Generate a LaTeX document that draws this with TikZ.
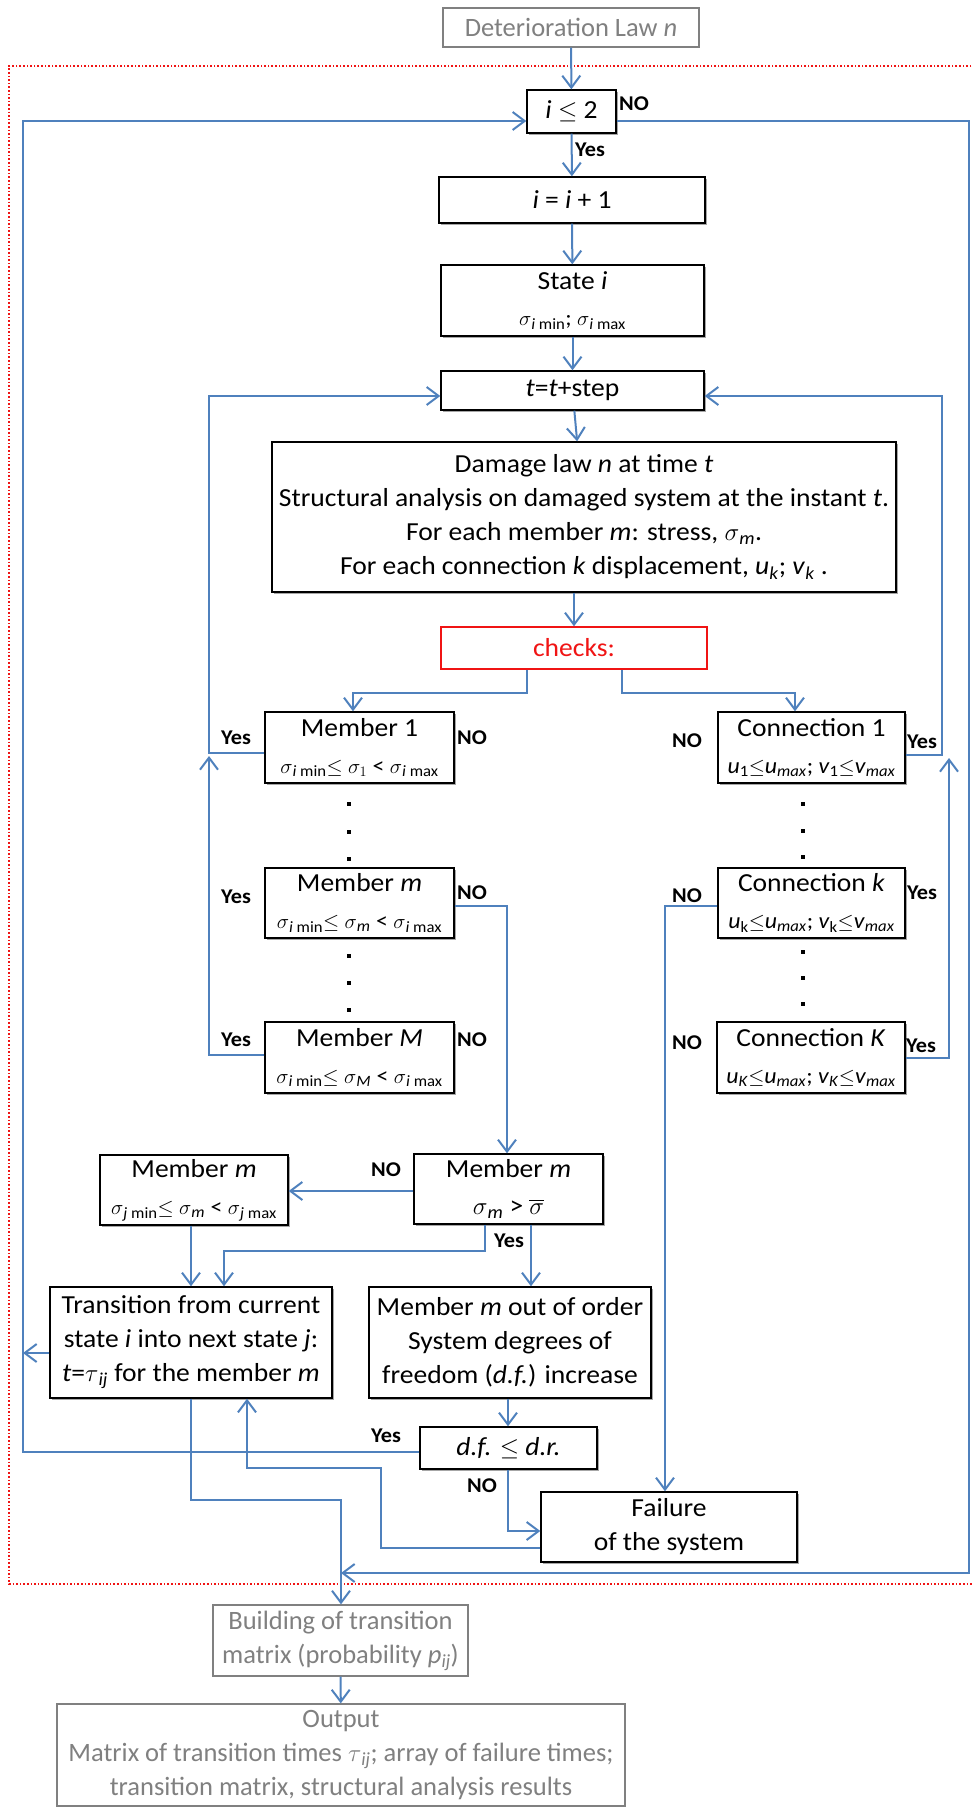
\documentclass[tikz,border=0pt]{standalone}
\usepackage{amsmath}
\usepackage{fontspec}
\setmainfont{Carlito}[FakeStretch=1.06]
\newfontfamily\plainfont{Carlito}
\usetikzlibrary{arrows.meta,shadows}
\definecolor{cblue}{RGB}{79,129,189}
\definecolor{cgray}{RGB}{128,128,128}
\definecolor{cred}{RGB}{240,20,20}
\newcommand\sub[1]{\textsubscript{#1}}
\newcommand\sg[1]{$\sigma$\sub{#1}}
\newcommand\sml{\fontsize{22.5}{34}\selectfont}
\begin{document}
\begin{tikzpicture}[x=1pt,y=-1pt,
  box/.style={draw=black,line width=1.4pt,inner sep=0pt,align=center,fill=white,
    font=\fontsize{26}{34}\selectfont,
    drop shadow={shadow xshift=1.6pt,shadow yshift=-1.6pt,fill=black!35,opacity=1}},
  gbox/.style={draw=cgray,line width=1.3pt,inner sep=0pt,align=center,text=cgray,fill=white,
    font=\plainfont\fontsize{26.5}{34}\selectfont},
  rbox/.style={draw=cred,line width=1.4pt,inner sep=0pt,align=center,text=cred,fill=white,
    font=\fontsize{26}{34}\selectfont},
  conn/.style={draw=cblue,line width=2pt,-{Straight Barb[length=12pt,width=18pt,line width=2pt]}},
  lbl/.style={font=\bfseries\fontsize{21}{21}\selectfont,inner sep=0pt},
  dotn/.style={rectangle,fill=black,inner sep=0pt,minimum size=4pt}]
\useasboundingbox (0,0) rectangle (972,1807);
% red dotted frame
\draw[cred,dotted,line width=1.6pt] (975,66) -- (9,66) -- (9,1584) -- (975,1584);
% nodes
\node[gbox,minimum width=256,minimum height=39] (det) at (571,27.5) {Deterioration Law \textit{n}};
\node[box,minimum width=89,minimum height=43] (ile) at (571.5,111.5) {\textit{i} $\leq$ 2};
\node[box,minimum width=266,minimum height=46] (inc) at (572,200) {\textit{i} = \textit{i} + 1};
\node[box,minimum width=263,minimum height=71] (state) at (572.5,300.5) {State \textit{i}\\[2pt] {\sml\sg{\textit{i} min}; \sg{\textit{i} max}}};
\node[box,minimum width=263,minimum height=39] (tstep) at (572.5,390.5) {\textit{t}=\textit{t}+step};
\node[box,minimum width=624,minimum height=150] (dmg) at (584,517) {Damage law \textit{n} at time \textit{t}\\
Structural analysis on damaged system at the instant \textit{t}.\\
For each member \textit{m}: stress, \sg{\textit{m}}.\\
For each connection \textit{k} displacement, \textit{u}\sub{\textit{k}}; \textit{v}\sub{\textit{k}} .};
\node[rbox,minimum width=266,minimum height=42] (checks) at (574,648) {checks:};
\node[box,minimum width=189,minimum height=71] (m1) at (359.5,747.5) {Member 1\\[3pt] {\sml\sg{\textit{i} min}$\leq$ $\sigma_1$ < \sg{\textit{i} max}}};
\node[box,minimum width=187,minimum height=71] (c1) at (811.5,747.5) {Connection 1\\[3pt] {\sml\textit{u}\sub{1}$\leq$\textit{u}\sub{\textit{max}}; \textit{v}\sub{1}$\leq$\textit{v}\sub{\textit{max}}}};
\node[box,minimum width=189,minimum height=70] (mm) at (359.5,903) {Member \textit{m}\\[3pt] {\sml\sg{\textit{i} min}$\leq$ \sg{\textit{m}} < \sg{\textit{i} max}}};
\node[box,minimum width=187,minimum height=70] (ck) at (811.5,903) {Connection \textit{k}\\[3pt] {\sml\textit{u}\sub{k}$\leq$\textit{u}\sub{\textit{max}}; \textit{v}\sub{k}$\leq$\textit{v}\sub{\textit{max}}}};
\node[box,minimum width=189,minimum height=71] (mM) at (359.5,1057.5) {Member \textit{M}\\[3pt] {\sml\sg{\textit{i} min}$\leq$ \sg{\textit{M}} < \sg{\textit{i} max}}};
\node[box,minimum width=188,minimum height=71] (cK) at (811,1057.5) {Connection \textit{K}\\[3pt] {\sml\textit{u}\sub{\textit{K}}$\leq$\textit{u}\sub{\textit{max}}; \textit{v}\sub{\textit{K}}$\leq$\textit{v}\sub{\textit{max}}}};
\node[box,minimum width=188,minimum height=70] (mj) at (194,1190) {Member \textit{m}\\[3pt] {\sml\sg{\textit{j} min}$\leq$ \sg{\textit{m}} < \sg{\textit{j} max}}};
\node[box,minimum width=189,minimum height=70] (mbar) at (508.5,1189) {Member \textit{m}\\[3pt] \sg{\textit{m}} > $\overline{\sigma}$};
\node[box,minimum width=282,minimum height=111] (trans) at (191,1342.5) {Transition from current\\ state \textit{i} into next state \textit{j}:\\ \textit{t}=$\tau$\sub{\textit{ij}} for the member \textit{m}};
\node[box,minimum width=282,minimum height=111] (ooo) at (510,1342.5) {Member \textit{m} out of order\\ System degrees of\\ freedom (\textit{d.f.}) increase};
\node[box,minimum width=177,minimum height=42] (df) at (508.5,1448) {\textit{d.f.} $\leq$ \textit{d.r.}};
\node[box,minimum width=256,minimum height=70] (fail) at (669,1527) {Failure\\ of the system};
\node[gbox,minimum width=255,minimum height=71] (build) at (340.5,1640.5) {Building of transition\\ matrix (probability \textit{p}\sub{\textit{ij}})};
\node[gbox,minimum width=568,minimum height=102] (out) at (341,1755) {Output\\ Matrix of transition times $\tau$\sub{\textit{ij}}; array of failure times;\\ transition matrix, structural analysis results};
% dots
\foreach \yy [count=\i] in {804,832,859,956,983,1010} {\node[dotn] (dm\i) at (349,\yy) {};}
\foreach \yy [count=\i] in {804,831,857,952,978,1004} {\node[dotn] (dc\i) at (803,\yy) {};}
% coordinates
\coordinate (leftj) at (23,1353);
\coordinate (botj) at (341,1573);
% connectors
\draw[conn] (det) -- (ile);
\draw[conn] (ile) -- (inc);
\draw[conn] (inc) -- (state);
\draw[conn] (state) -- (tstep);
\draw[conn] (tstep) -- (dmg);
\draw[conn] (574,0 |- dmg.south) -- (checks);
\draw[conn] (527,0 |- checks.south) |- (353,693) -- (353,0 |- m1.north);
\draw[conn] (622,0 |- checks.south) |- (795,693) -- (795,0 |- c1.north);
\draw[conn] (m1.west |- 0,753) -| (209,396) -- (tstep.west |- 0,396);
\draw[conn] (mM.west |- 0,1055) -| (209,756);
\draw[conn] (c1.east |- 0,755) -| (942,396) -- (tstep.east |- 0,396);
\draw[conn] (cK.east |- 0,1058) -| (949,758);
\draw[conn] (mm.east |- 0,906) -| (507,0 |- mbar.north);
\draw[conn] (ck.west |- 0,906) -| (665,0 |- fail.north);
\draw[conn] (mbar.west |- 0,1191) -- (mj.east |- 0,1191);
\draw[conn] (191,0 |- mj.south) -- (191,0 |- trans.north);
\draw[conn] (485,0 |- mbar.south) |- (224,1251) -- (224,0 |- trans.north);
\draw[conn] (531,0 |- mbar.south) -- (531,0 |- ooo.north);
\draw[conn] (trans.west |- leftj) -- (leftj);
\draw[conn] (508,0 |- ooo.south) -- (508,0 |- df.north);
\draw[conn] (df.west |- 0,1452) -| (23,121) -- (ile.west |- 0,121);
\draw[conn] (508,0 |- df.south) |- (fail.west |- 0,1531);
\draw[conn] (fail.west |- 0,1548) -| (381,1468) -| (247,0 |- trans.south);
\draw[conn] (191,0 |- trans.south) |- (341,1500) -- (341,0 |- build.north);
\draw[conn] (ile.east |- 0,121) -| (969,1573) -- (botj);
\draw[conn] (build) -- (out);
% labels
\node[lbl] (l1) at (634,104) {NO};
\node[lbl] (l2) at (590,150) {Yes};
\node[lbl] (l3) at (236,738) {Yes};
\node[lbl] (l4) at (236,897) {Yes};
\node[lbl] (l5) at (236,1040) {Yes};
\node[lbl] (l6) at (472,738) {NO};
\node[lbl] (l7) at (472,893) {NO};
\node[lbl] (l8) at (472,1040) {NO};
\node[lbl] (l9) at (687,741) {NO};
\node[lbl] (l10) at (687,896) {NO};
\node[lbl] (l11) at (687,1043) {NO};
\node[lbl] (l12) at (922,742) {Yes};
\node[lbl] (l13) at (922,893) {Yes};
\node[lbl] (l14) at (921,1046) {Yes};
\node[lbl] (l15) at (386,1170) {NO};
\node[lbl] (l16) at (509,1241) {Yes};
\node[lbl] (l17) at (386,1436) {Yes};
\node[lbl] (l18) at (482,1486) {NO};
\end{tikzpicture}
\end{document}
